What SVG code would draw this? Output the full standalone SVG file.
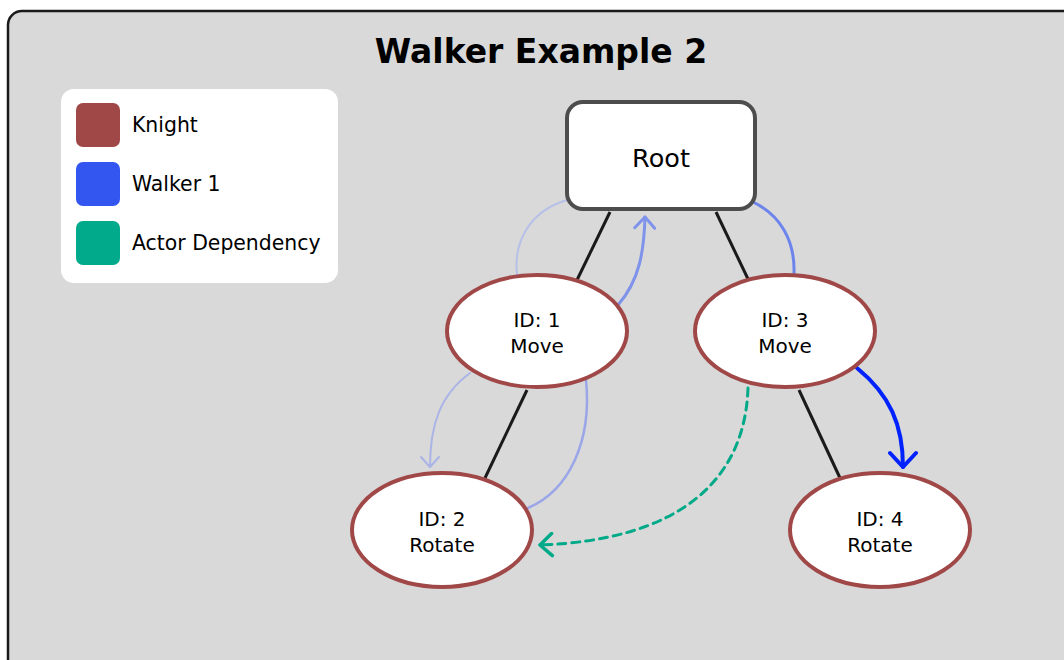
<svg xmlns="http://www.w3.org/2000/svg" width="1064" height="660" viewBox="0 0 1064 660">
<defs>
<style>
.t{font-family:"DejaVu Sans",Verdana,sans-serif;fill:#000}
.node ellipse{fill:#fff;stroke:#a04848;stroke-width:4}
.ntext{font-size:20px;text-anchor:middle}
.tree{stroke:#1a1a1a;stroke-width:3;fill:none}
.w{fill:none;stroke-linecap:round}
</style>
<marker id="am" viewBox="0 0 24 24" refX="21" refY="12" markerWidth="24" markerHeight="24" markerUnits="userSpaceOnUse" orient="auto">
<path d="M10,2 L21,12 L10,22" fill="none" stroke="#7f93ea" stroke-width="3" stroke-linecap="round" stroke-linejoin="round"/>
</marker>
<marker id="al" viewBox="0 0 24 24" refX="21" refY="12" markerWidth="24" markerHeight="24" markerUnits="userSpaceOnUse" orient="auto">
<path d="M11,3 L21,12 L11,21" fill="none" stroke="#aab4e6" stroke-width="2" stroke-linecap="round" stroke-linejoin="round"/>
</marker>
<marker id="ab" viewBox="0 0 30 30" refX="27" refY="15" markerWidth="30" markerHeight="30" markerUnits="userSpaceOnUse" orient="auto">
<path d="M13,2 L27,15 L13,28" fill="none" stroke="#0022ff" stroke-width="4" stroke-linecap="round" stroke-linejoin="round"/>
</marker>
<marker id="ag" viewBox="0 0 26 26" refX="23" refY="13" markerWidth="26" markerHeight="26" markerUnits="userSpaceOnUse" orient="auto">
<path d="M11,2 L23,13 L11,24" fill="none" stroke="#00aa88" stroke-width="3.5" stroke-linecap="round" stroke-linejoin="round"/>
</marker>
</defs>
<rect x="0" y="0" width="1064" height="660" fill="#ffffff"/>
<rect id="frame" x="8" y="11" width="1080" height="680" rx="14" fill="#d9d9d9" stroke="#1a1a1a" stroke-width="2.5"/>
<text class="t" x="541" y="63" font-size="33" font-weight="bold" text-anchor="middle">Walker Example 2</text>

<g id="legend">
<rect x="61" y="89" width="277" height="194" rx="13" fill="#fff"/>
<rect x="76" y="103" width="44" height="44" rx="7" fill="#a04848"/>
<rect x="76" y="162" width="44" height="44" rx="7" fill="#3355f0"/>
<rect x="76" y="221" width="44" height="44" rx="7" fill="#00aa8a"/>
<text class="t" x="132" y="132" font-size="20.4">Knight</text>
<text class="t" x="132" y="191" font-size="20.4">Walker 1</text>
<text class="t" x="132" y="250" font-size="20.4">Actor Dependency</text>
</g>

<g id="connectors">
<line class="tree" x1="610" y1="212" x2="577" y2="280"/>
<line class="tree" x1="716" y1="212" x2="748" y2="279"/>
<line class="tree" x1="527" y1="390" x2="485" y2="478"/>
<line class="tree" x1="799" y1="390" x2="840" y2="478"/>
<path class="w" d="M517,275 C513,238 533,210 567,200" stroke="#b7c0e8" stroke-width="2"/>
<path class="w" d="M618,305 C640,280 644,250 645,217" stroke="#7f93ea" stroke-width="3" marker-end="url(#am)"/>
<path class="w" d="M753,202 C780,215 795,240 794,273" stroke="#6d84ec" stroke-width="3"/>
<path class="w" d="M470,373 C440,395 430,425 430,467" stroke="#aab4e6" stroke-width="2" marker-end="url(#al)"/>
<path class="w" d="M586,380 C592,440 570,490 528,508" stroke="#9aa6e8" stroke-width="2.5"/>
<path class="w" d="M857,368 C890,395 903,425 903,467" stroke="#0022ff" stroke-width="4" marker-end="url(#ab)"/>
<path class="w" d="M748,388 C745,480 680,540 540,545" stroke="#00aa88" stroke-width="3" stroke-dasharray="8,6" stroke-linecap="butt" marker-end="url(#ag)"/>
</g>

<g id="root">
<rect x="567" y="102" width="188" height="107" rx="16" fill="#fff" stroke="#4d4d4d" stroke-width="4"/>
<text class="t" x="661" y="167" font-size="25.5" text-anchor="middle">Root</text>
</g>
<g id="n1" class="node">
<ellipse cx="537" cy="331" rx="90" ry="56"/>
<text class="t ntext" x="537" y="327">ID: 1</text>
<text class="t ntext" x="537" y="353">Move</text>
</g>
<g id="n3" class="node">
<ellipse cx="785" cy="331" rx="90" ry="56"/>
<text class="t ntext" x="785" y="327">ID: 3</text>
<text class="t ntext" x="785" y="353">Move</text>
</g>
<g id="n2" class="node">
<ellipse cx="442" cy="530" rx="90" ry="57"/>
<text class="t ntext" x="442" y="526">ID: 2</text>
<text class="t ntext" x="442" y="552">Rotate</text>
</g>
<g id="n4" class="node">
<ellipse cx="880" cy="530" rx="90" ry="57"/>
<text class="t ntext" x="880" y="526">ID: 4</text>
<text class="t ntext" x="880" y="552">Rotate</text>
</g>
</svg>
